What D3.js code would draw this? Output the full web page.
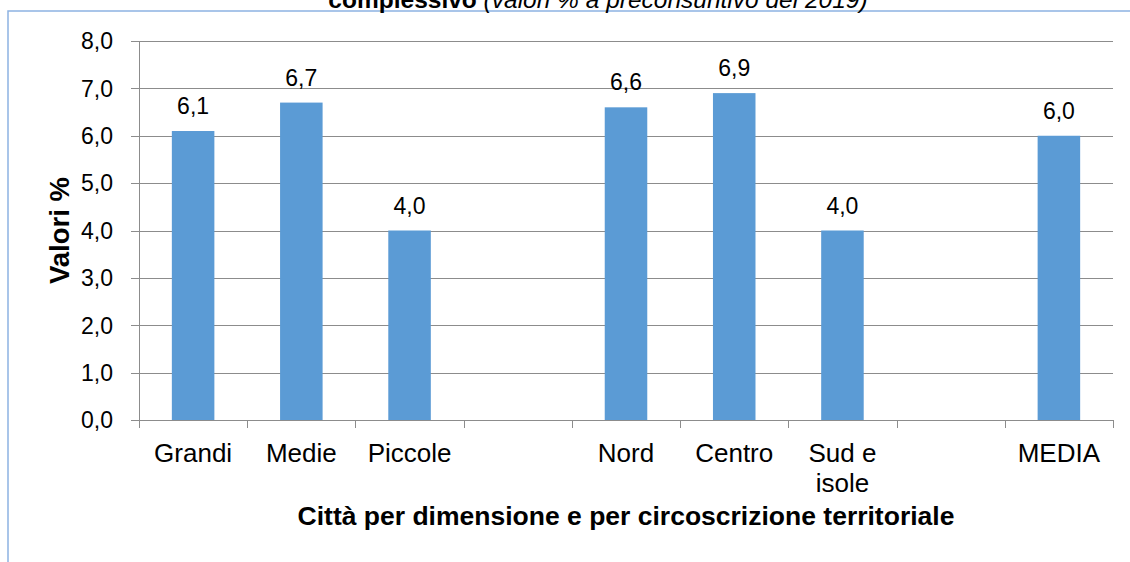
<!DOCTYPE html>
<html>
<head>
<meta charset="utf-8">
<script src="https://cdn.jsdelivr.net/npm/d3@7"></script>
<style>
  html, body { margin: 0; padding: 0; background: #fff; }
  svg { display: block; font-family: "Liberation Sans", Arial, sans-serif; }
</style>
</head>
<body>
<div id="chart"></div>
<script>
// categorie (le stringhe vuote sono gli spazi tra i gruppi)
var categories = ["Grandi", "Medie", "Piccole", "", "Nord", "Centro", "Sud e isole", "", "MEDIA"];
var categoryLines = [["Grandi"], ["Medie"], ["Piccole"], [""], ["Nord"], ["Centro"], ["Sud e", "isole"], [""], ["MEDIA"]];
var values = [6.1, 6.7, 4.0, null, 6.6, 6.9, 4.0, null, 6.0];
var yTickValues = [0, 1, 2, 3, 4, 5, 6, 7, 8];

var width = 1130, height = 562;
var margin = { left: 139, right: 1130 - 1113, top: 41, bottom: 562 - 420 };

var fmt = function(v) { return v.toFixed(1).replace(".", ","); };

var svg = d3.select("#chart").append("svg")
    .attr("width", width)
    .attr("height", height);

// cornice del grafico (esce dall'immagine a destra e in basso)
svg.append("rect")
    .attr("x", 8)
    .attr("y", 11)
    .attr("width", 1140)
    .attr("height", 600)
    .attr("fill", "none")
    .attr("stroke", "#8db3e2")
    .attr("stroke-width", 1.5);

// titolo (tagliato in alto, come nell'originale)
var title = svg.append("text")
    .attr("x", 598)
    .attr("y", 8)
    .attr("text-anchor", "middle")
    .style("font-size", "24.5px");
title.append("tspan").style("font-weight", "bold").text("complessivo ");
title.append("tspan").style("font-style", "italic").text("(valori % a preconsuntivo del 2019)");

var idx = d3.range(categories.length);

// scala per le barre
var x = d3.scaleBand()
    .domain(idx)
    .range([margin.left, width - margin.right])
    .paddingInner(0.607)
    .paddingOuter(0.3035);

// scala per i tick (bordi delle categorie)
var xTicks = d3.scaleBand()
    .domain(idx)
    .range([margin.left, width - margin.right]);

var y = d3.scaleLinear()
    .domain([0, 8])
    .range([height - margin.bottom, margin.top]);

// griglia orizzontale con tick a sinistra
svg.append("g")
    .selectAll("line")
    .data(yTickValues)
    .enter()
    .append("line")
    .attr("x1", margin.left - 8)
    .attr("x2", width - margin.right)
    .attr("y1", function(d) { return Math.round(y(d)) + 0.5; })
    .attr("y2", function(d) { return Math.round(y(d)) + 0.5; })
    .attr("stroke", "#8c8c8c")
    .attr("stroke-width", 1);

// etichette asse y
svg.append("g")
    .selectAll("text")
    .data(yTickValues)
    .enter()
    .append("text")
    .attr("x", margin.left - 26)
    .attr("y", function(d) { return y(d); })
    .attr("dy", "0.36em")
    .attr("text-anchor", "end")
    .style("font-size", "23px")
    .style("fill", "#000")
    .text(fmt);

// asse y
svg.append("line")
    .attr("x1", margin.left + 0.5)
    .attr("x2", margin.left + 0.5)
    .attr("y1", y(8))
    .attr("y2", y(0) + 1)
    .attr("stroke", "#8c8c8c");

// tick asse x
var tickPos = idx.map(function(i) { return xTicks(i); }).concat([xTicks(idx.length - 1) + xTicks.bandwidth()]);
svg.append("g")
    .selectAll("line")
    .data(tickPos)
    .enter()
    .append("line")
    .attr("x1", function(d) { return Math.round(d) + 0.5; })
    .attr("x2", function(d) { return Math.round(d) + 0.5; })
    .attr("y1", y(0))
    .attr("y2", y(0) + 8)
    .attr("stroke", "#8c8c8c");

// barre
var barData = idx.filter(function(i) { return values[i] !== null; });
svg.append("g")
    .selectAll("rect")
    .data(barData)
    .enter()
    .append("rect")
    .attr("x", function(i) { return x(i); })
    .attr("y", function(i) { return y(values[i]); })
    .attr("width", x.bandwidth())
    .attr("height", function(i) { return y(0) - y(values[i]); })
    .attr("fill", "#5b9bd5");

// valori sopra le barre
svg.append("g")
    .selectAll("text")
    .data(barData)
    .enter()
    .append("text")
    .attr("x", function(i) { return x(i) + x.bandwidth() / 2; })
    .attr("y", function(i) { return y(values[i]) - 17; })
    .attr("text-anchor", "middle")
    .style("font-size", "23px")
    .style("fill", "#000")
    .text(function(i) { return fmt(values[i]); });

// etichette categorie
var catLabels = svg.append("g")
    .selectAll("text")
    .data(idx)
    .enter()
    .append("text")
    .attr("x", function(i) { return xTicks(i) + xTicks.bandwidth() / 2; })
    .attr("y", y(0) + 42)
    .attr("text-anchor", "middle")
    .style("font-size", "26px")
    .style("fill", "#000");
catLabels.selectAll("tspan")
    .data(function(i) { return categoryLines[i]; })
    .enter()
    .append("tspan")
    .attr("x", function() { return d3.select(this.parentNode).attr("x"); })
    .attr("dy", function(d, j) { return j === 0 ? 0 : 30; })
    .text(function(d) { return d; });

// titolo asse x
svg.append("text")
    .attr("x", (margin.left + width - margin.right) / 2)
    .attr("y", 525)
    .attr("text-anchor", "middle")
    .style("font-size", "26.5px")
    .style("font-weight", "bold")
    .text("Città per dimensione e per circoscrizione territoriale");

// titolo asse y
svg.append("text")
    .attr("transform", "translate(69," + y(4) + ") rotate(-90)")
    .attr("text-anchor", "middle")
    .style("font-size", "27.5px")
    .style("font-weight", "bold")
    .text("Valori %");
</script>
</body>
</html>
